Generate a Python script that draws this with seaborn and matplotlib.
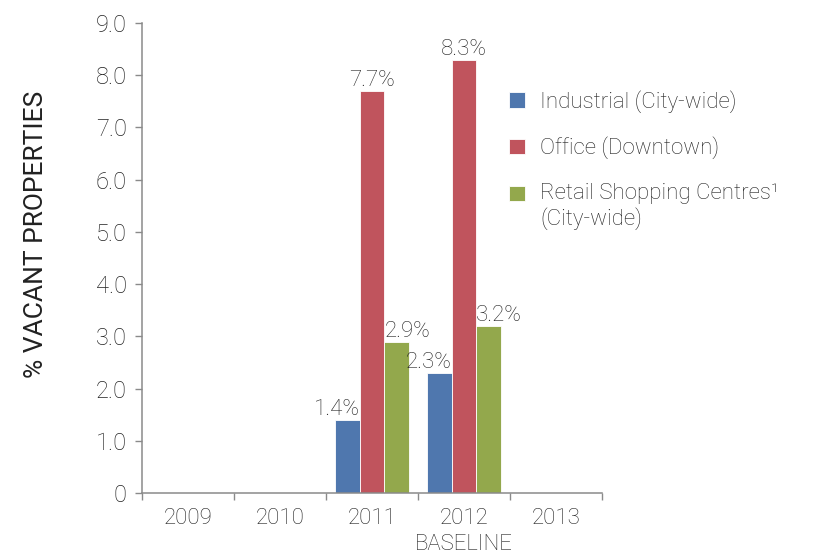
import matplotlib
matplotlib.use("Agg")
import matplotlib.pyplot as plt
import numpy as np
import pandas as pd
import seaborn as sns

# ===== data =====
YEARS = ["2009", "2010", "2011", "2012", "2013"]
YEAR_LABELS = ["2009", "2010", "2011", "2012\nBASELINE", "2013"]
SERIES = [
    "Industrial (City-wide)",
    "Office (Downtown)",
    "Retail Shopping Centres\u00b9\n(City-wide)",
]
INDUSTRIAL = [np.nan, np.nan, 1.4, 2.3, np.nan]
OFFICE = [np.nan, np.nan, 7.7, 8.3, np.nan]
RETAIL = [np.nan, np.nan, 2.9, 3.2, np.nan]
COLORS = ["#4f77ae", "#c0545d", "#93a84c"]
Y_TICKS = [0, 1, 2, 3, 4, 5, 6, 7, 8, 9]
Y_TICK_LABELS = ["0", "1.0", "2.0", "3.0", "4.0", "5.0", "6.0", "7.0", "8.0", "9.0"]

TEXT_COLOR = "#222222"
AXIS_COLOR = "#8a8a8a"
FS = 16

sns.set_theme(style="ticks")
plt.rcParams["font.family"] = ["Roboto", "DejaVu Sans"]
plt.rcParams["font.weight"] = "light"
plt.rcParams["text.color"] = TEXT_COLOR
plt.rcParams["axes.labelcolor"] = TEXT_COLOR
plt.rcParams["xtick.color"] = AXIS_COLOR
plt.rcParams["ytick.color"] = AXIS_COLOR
plt.rcParams["xtick.labelcolor"] = TEXT_COLOR
plt.rcParams["ytick.labelcolor"] = TEXT_COLOR

df = pd.DataFrame({
    "year": YEARS * 3,
    "series": [SERIES[0]] * 5 + [SERIES[1]] * 5 + [SERIES[2]] * 5,
    "value": INDUSTRIAL + OFFICE + RETAIL,
})

fig = plt.figure(figsize=(8.31, 5.57), dpi=100)
ax = fig.add_axes([142 / 831, 1 - 493 / 557, 460 / 831, 470 / 557])

sns.barplot(
    data=df, x="year", y="value", hue="series",
    order=YEARS, hue_order=SERIES, palette=COLORS,
    width=0.8, edgecolor="white", linewidth=0.6, saturation=1,
    errorbar=None, ax=ax,
)

ax.set_xlim(-0.5, len(YEARS) - 0.5)
ax.set_ylim(0, 9)
ax.set_yticks(Y_TICKS)
ax.set_yticklabels(Y_TICK_LABELS, fontsize=FS + 1)
ax.set_xticks(range(len(YEARS)))
ax.set_xticklabels(YEAR_LABELS, fontsize=FS, linespacing=1.3, va="top")
ax.set_xticks(np.arange(-0.5, len(YEARS), 1.0), minor=True)
ax.tick_params(axis="x", which="major", length=0, pad=11)
ax.tick_params(axis="x", which="minor", length=5, width=1, direction="out")
ax.tick_params(axis="y", length=5, width=1, direction="out", pad=6)

sns.despine(ax=ax)
for side in ["left", "bottom"]:
    ax.spines[side].set_color(AXIS_COLOR)
    ax.spines[side].set_linewidth(1.1)

ax.set_xlabel("")
ax.set_ylabel("% VACANT PROPERTIES", fontsize=FS + 3)
ax.yaxis.set_label_coords(-0.204, 0.551)

# value labels: blue right-aligned, red centred, green left-aligned
aligns = ["right", "center", "left"]
for cont, ha in zip(ax.containers, aligns):
    for bar in cont:
        h = bar.get_height()
        if np.isnan(h) or h == 0:
            continue
        if ha == "right":
            x = bar.get_x() + bar.get_width()
        elif ha == "left":
            x = bar.get_x()
        else:
            x = bar.get_x() + bar.get_width() / 2
        ax.annotate(f"{h:.1f}%", (x, h), xytext=(0, 0), textcoords="offset points",
                    ha=ha, va="bottom", fontsize=FS, color=TEXT_COLOR)

ax.get_legend().remove()
handles, labels = ax.get_legend_handles_labels()
leg = fig.legend(
    handles, labels, loc="upper left",
    bbox_to_anchor=(509 / 831, 1 - 90 / 557),
    frameon=False, fontsize=FS, borderpad=0, borderaxespad=0,
    handlelength=0.7, handleheight=0.7, handletextpad=0.7,
    labelspacing=1.07,
)
for t in leg.get_texts():
    t.set_color(TEXT_COLOR)
# keep the two-line entry's swatch next to its first line
retail_patch = leg.get_patches()[2]
retail_patch.set_y(retail_patch.get_y() + FS * 1.2 / 2)

fig.savefig("out.png", dpi=100)
